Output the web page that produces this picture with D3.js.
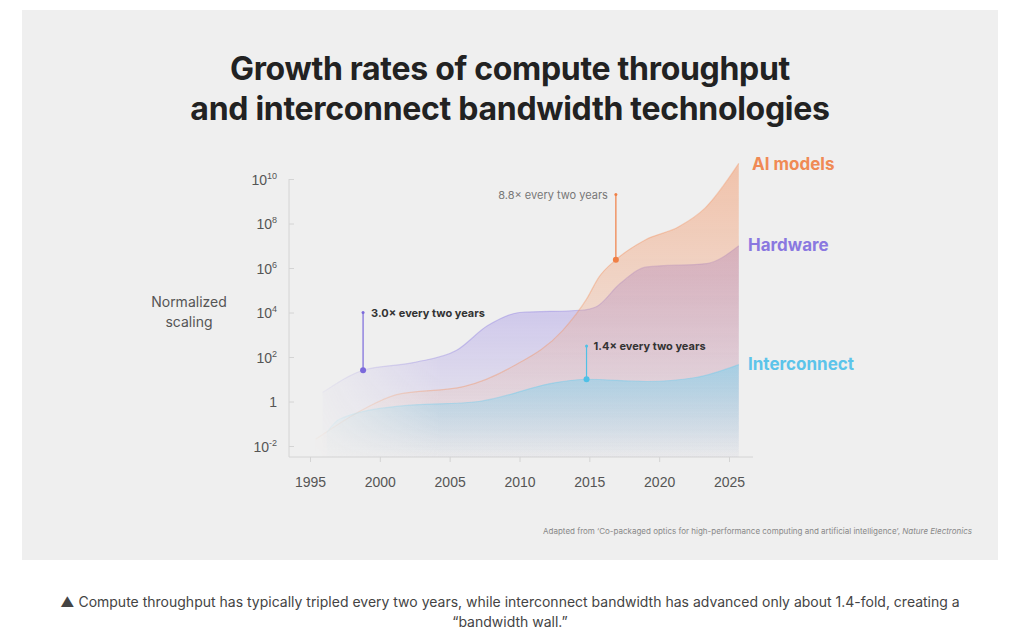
<!DOCTYPE html>
<html lang="en">
<head>
<meta charset="UTF-8">
<title>Growth rates</title>
<script src="https://cdn.jsdelivr.net/npm/d3@7"></script>
<style>
  * { margin: 0; padding: 0; }
  body { background: #fff; width: 1024px; height: 639px; overflow: hidden; font-family: Inter, "Noto Sans", sans-serif; }
</style>
</head>
<body>
<div id="chart"></div>
<script>
// series: years and log10 of normalized scaling
const aiYears = [1995.4, 1998.8, 2001.2, 2006, 2009.5, 2013.1, 2014.8, 2015.7, 2016.9, 2019, 2021.4, 2023.3, 2025.7];
const aiExp   = [-1.7, -0.36, 0.31, 0.67, 1.57, 3.2, 4.6, 5.6, 6.37, 7.26, 7.85, 8.7, 10.7];
const hwYears = [1995.9, 1998.8, 2002.4, 2005.5, 2007.7, 2010, 2014.4, 2015.5, 2017.2, 2019.1, 2023.4, 2025.7];
const hwExp   = [0.4, 1.4, 1.75, 2.3, 3.4, 4.0, 4.1, 4.26, 5.3, 6.05, 6.2, 7.0];
const icYears = [1996.2, 1997.1, 2001.2, 2007.1, 2012.6, 2014.8, 2019.1, 2022.6, 2025.7];
const icExp   = [-1.4, -0.8, -0.22, 0, 0.85, 1.0, 0.9, 1.08, 1.66];

const xTicks = [1995, 2000, 2005, 2010, 2015, 2020, 2025];
const yTickExp = [-2, 0, 2, 4, 6, 8, 10];

const W = 1024, H = 639;
const svg = d3.select('#chart').append('svg').attr('width', W).attr('height', H);

// panel
svg.append('rect').attr('x', 22).attr('y', 10).attr('width', 976).attr('height', 550).attr('fill', '#efefef');

svg.append('text').attr('x', 510).attr('y', 80).attr('text-anchor', 'middle')
  .attr('font-size', 32).attr('font-weight', 700).attr('fill', '#222').attr('letter-spacing', -0.3)
  .text('Growth rates of compute throughput');
svg.append('text').attr('x', 510).attr('y', 120).attr('text-anchor', 'middle')
  .attr('font-size', 32).attr('font-weight', 700).attr('fill', '#222').attr('letter-spacing', -0.3)
  .text('and interconnect bandwidth technologies');

const x = d3.scaleLinear().domain([1995, 2025]).range([310, 729]);
const y = d3.scaleLog().domain([1e-2, 1e10]).range([446, 179]);
const baseY = 457;

// axes
const xAxisG = svg.append('g').attr('transform', `translate(0,${baseY})`)
  .call(d3.axisBottom(x).tickValues(xTicks).tickFormat(d3.format('d')).tickSize(5));
xAxisG.select('.domain').remove();
xAxisG.append('line').attr('x1', 289).attr('x2', 753).attr('stroke', '#d4d4d4');
xAxisG.selectAll('.tick line').attr('stroke', '#d4d4d4');
xAxisG.selectAll('text').attr('font-size', 14).attr('fill', '#555').attr('y', 20).attr('dy', '0.71em');

const yAxisG = svg.append('g').attr('transform', 'translate(289,0)')
  .call(d3.axisLeft(y).tickValues(yTickExp.map(e => Math.pow(10, e))).tickSize(-5).tickFormat(''));
yAxisG.select('.domain').remove();
yAxisG.append('line').attr('y1', 179).attr('y2', baseY).attr('stroke', '#d4d4d4');
yAxisG.selectAll('.tick line').attr('stroke', '#d4d4d4');
yAxisG.selectAll('.tick').each(function (d) {
  const e = Math.round(Math.log10(d));
  const t = d3.select(this).append('text').attr('x', -12).attr('dy', 5)
    .attr('text-anchor', 'end').attr('fill', '#555').attr('font-size', 14);
  if (e === 0) t.text('1');
  else {
    t.append('tspan').text('10');
    t.append('tspan').attr('font-size', 9).attr('dy', -6).text(e);
  }
});

svg.append('text').attr('x', 189).attr('y', 307).attr('text-anchor', 'middle')
  .attr('font-size', 14).attr('fill', '#555').text('Normalized');
svg.append('text').attr('x', 189).attr('y', 327).attr('text-anchor', 'middle')
  .attr('font-size', 14).attr('fill', '#555').text('scaling');

// series
const series = [
  { name: 'hw', years: hwYears, exp: hwExp, color: '#8f7fe0', fill: '#a595e6' },
  { name: 'ai', years: aiYears, exp: aiExp, color: '#f2925f', fill: '#f2a57e' },
  { name: 'ic', years: icYears, exp: icExp, color: '#6ccbea', fill: '#7fd0ec' }
];

const defs = svg.append('defs');
series.forEach(s => {
  const g = defs.append('linearGradient').attr('id', 'g-' + s.name)
    .attr('x1', 0).attr('y1', 0).attr('x2', 0).attr('y2', 1);
  g.append('stop').attr('offset', '0%').attr('stop-color', s.fill).attr('stop-opacity', 0.6);
  g.append('stop').attr('offset', '100%').attr('stop-color', s.fill).attr('stop-opacity', 0.03);
});
// left-side fade
const fg = defs.append('linearGradient').attr('id', 'fade')
  .attr('gradientUnits', 'userSpaceOnUse').attr('x1', 300).attr('x2', 440).attr('y1', 0).attr('y2', 0);
fg.append('stop').attr('offset', '0%').attr('stop-color', '#fff').attr('stop-opacity', 0);
fg.append('stop').attr('offset', '100%').attr('stop-color', '#fff').attr('stop-opacity', 1);
defs.append('mask').attr('id', 'fadeMask').attr('maskUnits', 'userSpaceOnUse')
  .attr('x', 0).attr('y', 0).attr('width', W).attr('height', H)
  .append('rect').attr('x', 0).attr('y', 0).attr('width', W).attr('height', H).attr('fill', 'url(#fade)');

const plot = svg.append('g').attr('mask', 'url(#fadeMask)');
series.forEach(s => {
  const pts = s.years.map((yr, i) => [yr, Math.pow(10, s.exp[i])]);
  const area = d3.area().curve(d3.curveMonotoneX)
    .x(d => x(d[0])).y0(baseY).y1(d => y(d[1]));
  const line = d3.line().curve(d3.curveMonotoneX).x(d => x(d[0])).y(d => y(d[1]));
  plot.append('path').attr('d', area(pts)).attr('fill', `url(#g-${s.name})`);
  plot.append('path').attr('d', line(pts)).attr('fill', 'none')
    .attr('stroke', s.color).attr('stroke-opacity', 0.4).attr('stroke-width', 1.2);
});

// annotations
const notes = [
  { year: 1998.8, exp: 1.4, topExp: 4.0, color: '#7b69db', text: '3.0× every two years', bold: true, anchor: 'start', dx: 8 },
  { year: 2016.9, exp: 6.37, topExp: 9.3, color: '#f07f45', text: '8.8× every two years', bold: false, anchor: 'end', dx: -8 },
  { year: 2014.8, exp: 1.0, topExp: 2.5, color: '#4fc0e6', text: '1.4× every two years', bold: true, anchor: 'start', dx: 7 }
];
notes.forEach(n => {
  const px = x(n.year), py = y(Math.pow(10, n.exp)), ty = y(Math.pow(10, n.topExp));
  svg.append('line').attr('x1', px).attr('x2', px).attr('y1', py).attr('y2', ty)
    .attr('stroke', n.color).attr('stroke-width', 1.2);
  svg.append('circle').attr('cx', px).attr('cy', py).attr('r', 3).attr('fill', n.color);
  svg.append('circle').attr('cx', px).attr('cy', ty).attr('r', 1.5).attr('fill', n.color);
  svg.append('text').attr('x', px + n.dx).attr('y', ty + 4).attr('text-anchor', n.anchor)
    .attr('font-size', 11).attr('font-weight', n.bold ? 700 : 400)
    .attr('fill', n.bold ? '#333' : '#777').text(n.text);
});

// series labels
const labels = [
  { text: 'AI models', x: 752, y: 170, color: '#f08a55' },
  { text: 'Hardware', x: 748, y: 251, color: '#8a78e0' },
  { text: 'Interconnect', x: 748, y: 370, color: '#5cc4ea' }
];
labels.forEach(l => svg.append('text').attr('x', l.x).attr('y', l.y)
  .attr('font-size', 17).attr('font-weight', 700).attr('fill', l.color).text(l.text));

// source
const src = svg.append('text').attr('x', 972).attr('y', 534).attr('text-anchor', 'end')
  .attr('font-size', 8).attr('fill', '#888');
src.append('tspan').text('Adapted from \u2018Co-packaged optics for high-performance computing and artificial intelligence\u2019, ');
src.append('tspan').attr('font-style', 'italic').text('Nature Electronics');

// caption
svg.append('text').attr('x', 510).attr('y', 607).attr('text-anchor', 'middle')
  .attr('font-size', 14).attr('fill', '#444')
  .text('\u25B2 Compute throughput has typically tripled every two years, while interconnect bandwidth has advanced only about 1.4-fold, creating a');
svg.append('text').attr('x', 510).attr('y', 627).attr('text-anchor', 'middle')
  .attr('font-size', 14).attr('fill', '#444').text('\u201Cbandwidth wall.\u201D');
</script>
</body>
</html>
